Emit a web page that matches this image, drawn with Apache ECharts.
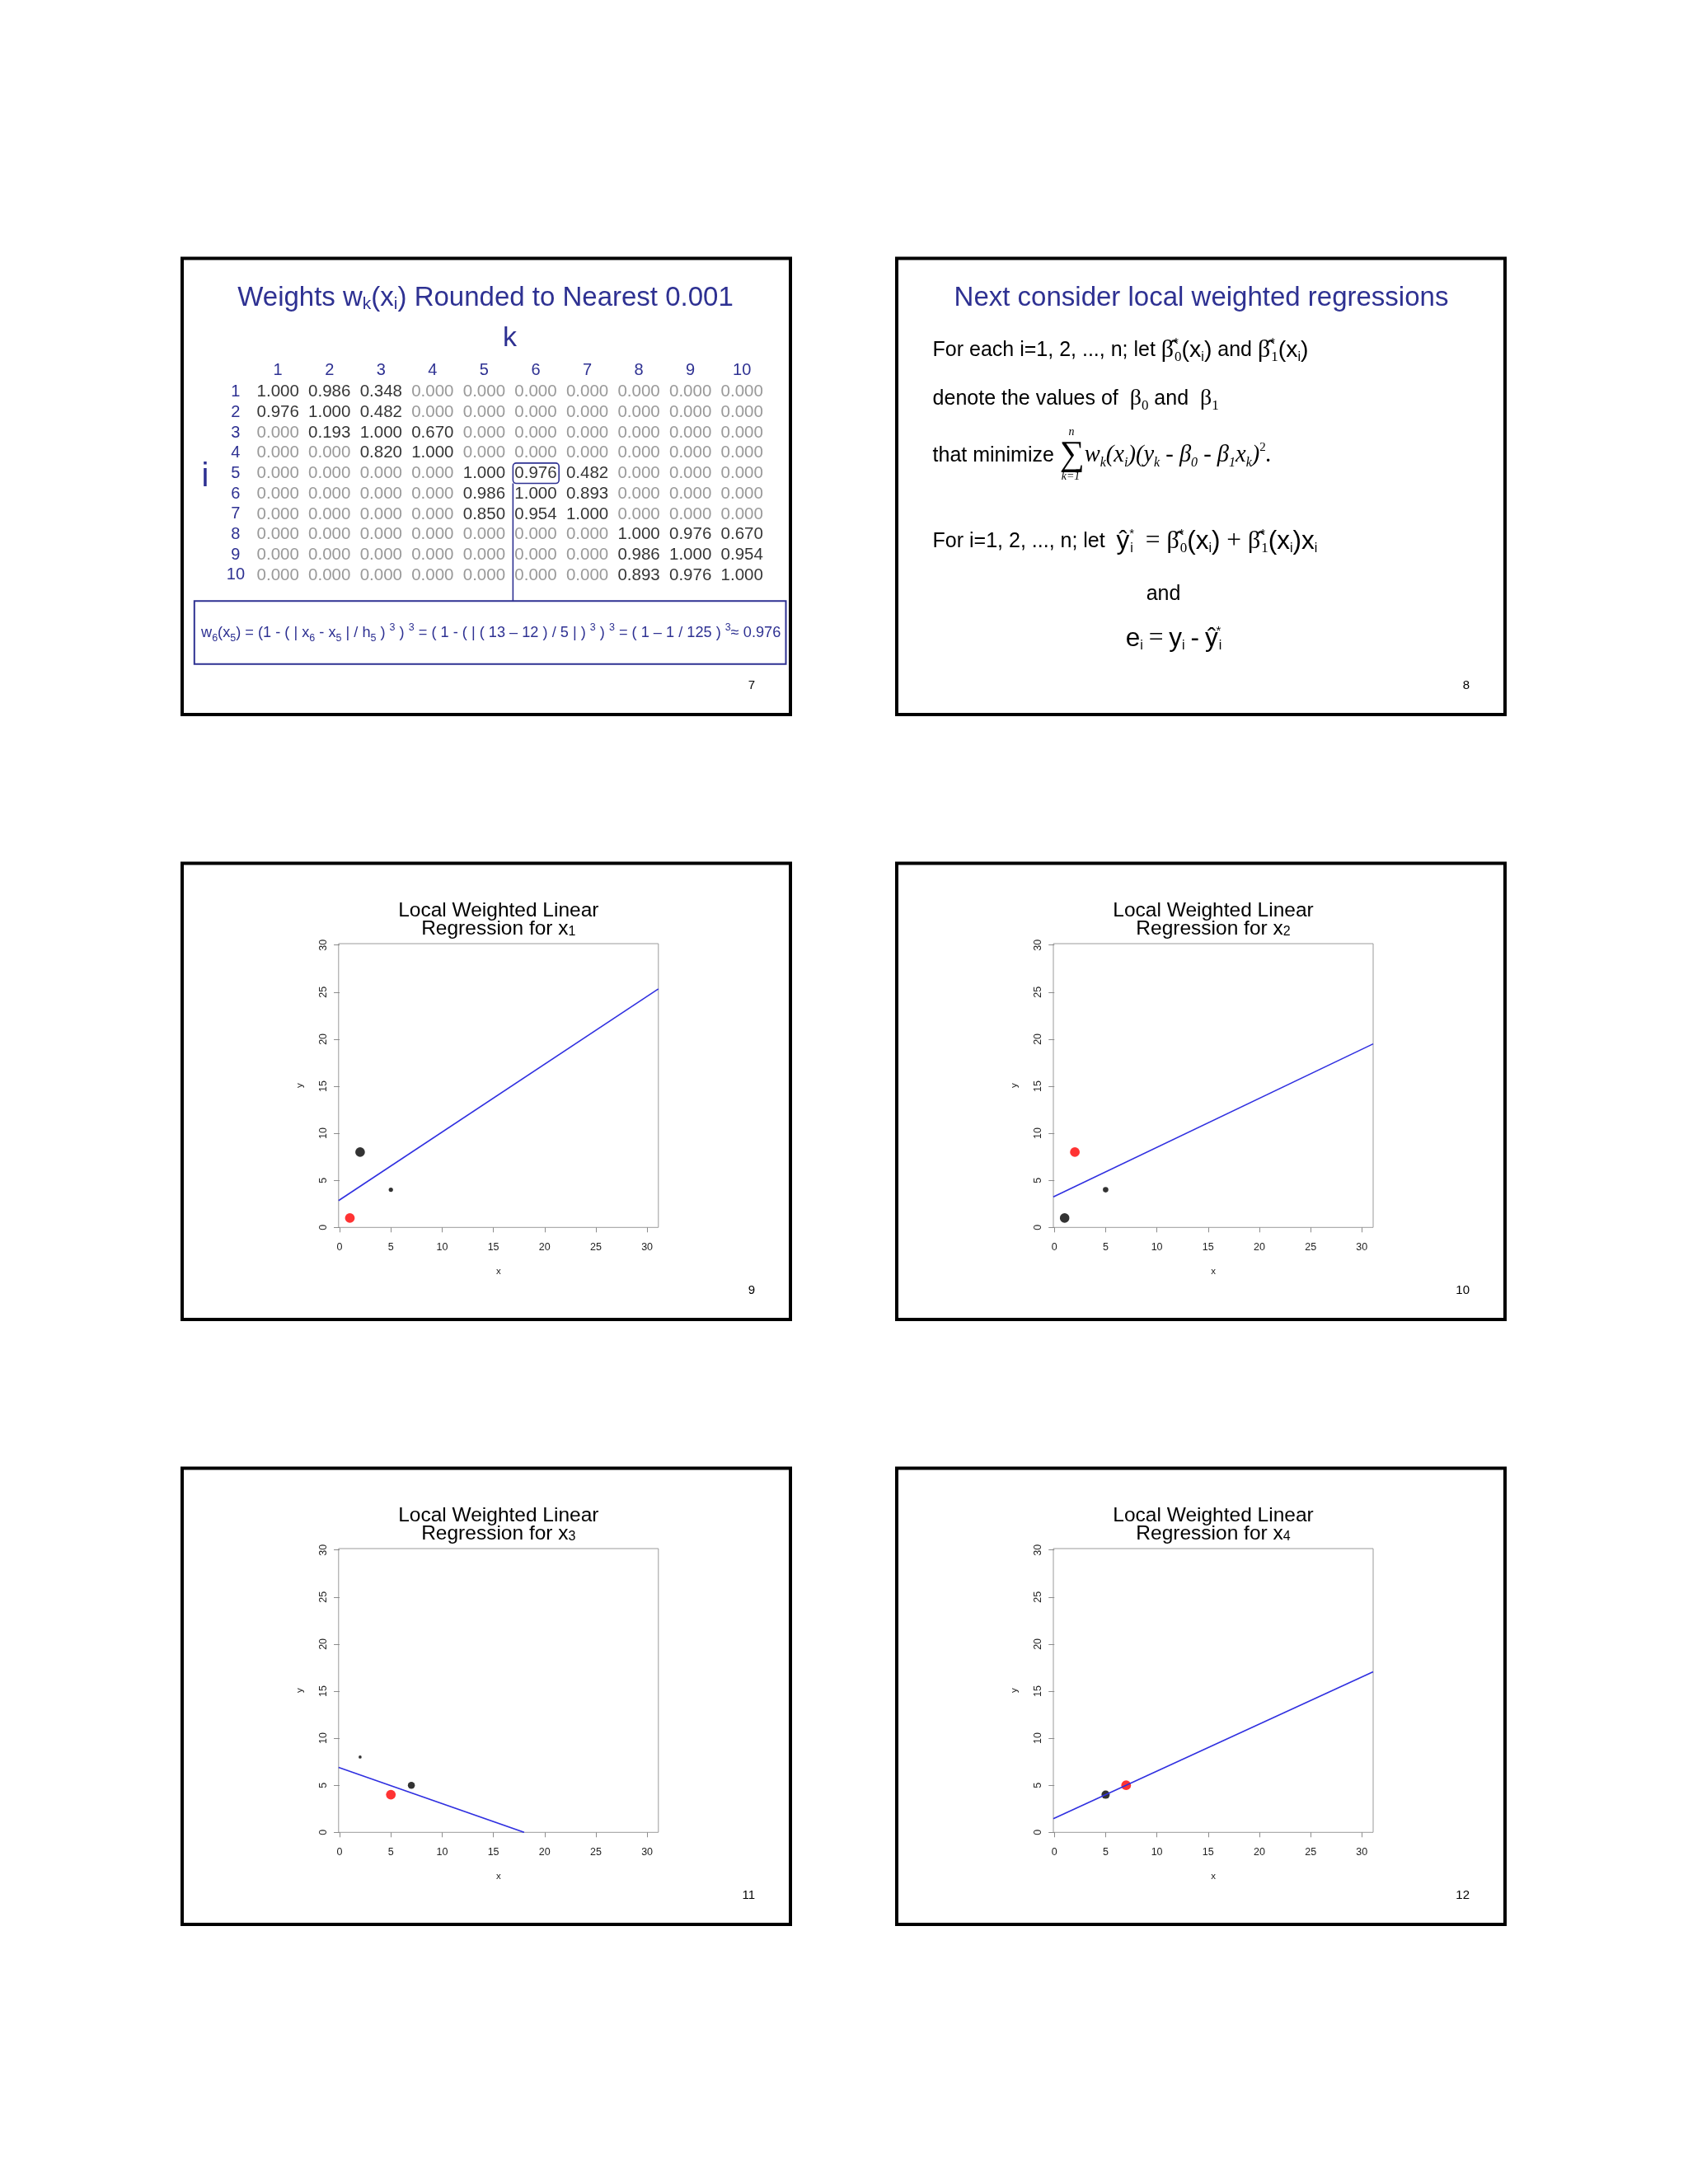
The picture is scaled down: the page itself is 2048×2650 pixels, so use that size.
<!DOCTYPE html>
<html><head><meta charset="utf-8">
<script src="https://cdn.jsdelivr.net/npm/echarts@6/dist/echarts.min.js"></script>
<style>html,body{margin:0;padding:0;background:#fff}#c{width:2048px;height:2650px}</style>
</head><body><div id="c"></div>
<script>
// ---------------- data ----------------
const colLabels = ['1','2','3','4','5','6','7','8','9','10'];
const rowLabels = ['1','2','3','4','5','6','7','8','9','10'];
const w1  = [1.000, 0.986, 0.348, 0.000, 0.000, 0.000, 0.000, 0.000, 0.000, 0.000];
const w2  = [0.976, 1.000, 0.482, 0.000, 0.000, 0.000, 0.000, 0.000, 0.000, 0.000];
const w3  = [0.000, 0.193, 1.000, 0.670, 0.000, 0.000, 0.000, 0.000, 0.000, 0.000];
const w4  = [0.000, 0.000, 0.820, 1.000, 0.000, 0.000, 0.000, 0.000, 0.000, 0.000];
const w5  = [0.000, 0.000, 0.000, 0.000, 1.000, 0.976, 0.482, 0.000, 0.000, 0.000];
const w6  = [0.000, 0.000, 0.000, 0.000, 0.986, 1.000, 0.893, 0.000, 0.000, 0.000];
const w7  = [0.000, 0.000, 0.000, 0.000, 0.850, 0.954, 1.000, 0.000, 0.000, 0.000];
const w8  = [0.000, 0.000, 0.000, 0.000, 0.000, 0.000, 0.000, 1.000, 0.976, 0.670];
const w9  = [0.000, 0.000, 0.000, 0.000, 0.000, 0.000, 0.000, 0.986, 1.000, 0.954];
const w10 = [0.000, 0.000, 0.000, 0.000, 0.000, 0.000, 0.000, 0.893, 0.976, 1.000];
const weightRows = [w1, w2, w3, w4, w5, w6, w7, w8, w9, w10];
const pointX = [1, 2, 5, 7];
const pointY = [1, 8, 4, 5];
const tickValues = [0, 5, 10, 15, 20, 25, 30];
const fit1X = [-0.1, 31.1], fit1Y = [2.85, 25.35];
const fit2X = [-0.1, 31.1], fit2Y = [3.25, 19.5];
const fit3X = [-0.1, 18.0], fit3Y = [6.9, 0];
const fit4X = [-0.1, 31.1], fit4Y = [1.45, 17.05];
const fitLines = [[fit1X, fit1Y], [fit2X, fit2Y], [fit3X, fit3Y], [fit4X, fit4Y]];
const panelSubs = ['1', '2', '3', '4'];
const pageNumbers = ['7', '8', '9', '10', '11', '12'];

// ---------------- styling ----------------
const BLUE = '#2E3192';
const SANS = 'Liberation Sans';
const SERIF = 'Liberation Serif';

const chart = echarts.init(document.getElementById('c'), null, {renderer: 'canvas', width: 2048, height: 2650});

const slideX = [221, 1088];
const slideY = [313.5, 1047.5, 1781.5];
const SW = 738, SH = 553.5;

const graphics = [];
slideY.forEach(y => slideX.forEach(x => {
  graphics.push({type: 'rect', shape: {x: x, y: y, width: SW, height: SH},
    style: {fill: 'none', stroke: '#000', lineWidth: 4}, silent: true});
}));
let pn = 0;
slideY.forEach(y => slideX.forEach(x => {
  graphics.push({type: 'text', x: x + SW - 43, y: y + SH - 35,
    style: {text: pageNumbers[pn++], fill: '#000', fontSize: 15, fontFamily: SANS,
      align: 'right', verticalAlign: 'middle', textAlign: 'right', textVerticalAlign: 'middle'}});
}));

function T(x, y, text, st) {
  const s = Object.assign({text: text, fill: '#000', fontSize: 25, fontFamily: SANS,
    align: 'left', verticalAlign: 'middle'}, st || {});
  s.textAlign = s.align; s.textVerticalAlign = s.verticalAlign;
  return {type: 'text', x: x, y: y, style: s, silent: true};
}

// ---- slide 7 ----
graphics.push(T(589, 362, 'Weights w{s|k}(x{s|i}) Rounded to Nearest 0.001', {
  fill: BLUE, fontSize: 33, lineHeight: 36, align: 'center',
  rich: {s: {fontSize: 21, lineHeight: 12, verticalAlign: 'bottom', fill: BLUE, fontFamily: SANS}}}));
graphics.push(T(618.5, 410.5, 'k', {fill: BLUE, fontSize: 34, align: 'center'}));
graphics.push(T(249, 579, 'i', {fill: BLUE, fontSize: 40, align: 'center'}));
graphics.push({type: 'rect', shape: {x: 235.8, y: 729.3, width: 717.7, height: 76.4},
  style: {fill: 'none', stroke: BLUE, lineWidth: 2}, silent: true});
graphics.push(T(244, 768,
  'w{b|6}(x{b|5}) = (1 - ( | x{b|6} - x{b|5} | / h{b|5} ) {p|3} ) {p|3} = ( 1 - ( | ( 13 \u2013 12 ) / 5 | ) {p|3} ) {p|3} = ( 1 \u2013 1 / 125 ) {p|3}\u2248 0.976', {
  fill: BLUE, fontSize: 18.2, lineHeight: 26,
  rich: {b: {fontSize: 12.5, lineHeight: 11, verticalAlign: 'bottom', fill: BLUE, fontFamily: SANS},
         p: {fontSize: 12.5, lineHeight: 11, verticalAlign: 'top', fill: BLUE, fontFamily: SANS}}}));

// ---- slide 8 ----
graphics.push(T(1457.5, 362, 'Next consider local weighted regressions', {fill: BLUE, fontSize: 33, align: 'center'}));
const mathRich = {
  b:  {fontFamily: SERIF, fontSize: 30, lineHeight: 34, verticalAlign: 'middle'},
  bb: {fontFamily: SERIF, fontSize: 28, lineHeight: 34, verticalAlign: 'middle'},
  st: {fontFamily: SANS, fontSize: 15, lineHeight: 12, verticalAlign: 'top', width: 1},
  z:  {fontFamily: SERIF, fontSize: 17, lineHeight: 12, verticalAlign: 'bottom'},
  i:  {fontFamily: SANS, fontSize: 16, lineHeight: 12, verticalAlign: 'bottom'},
  it: {fontFamily: SERIF, fontStyle: 'italic', fontSize: 28.5, lineHeight: 34, verticalAlign: 'middle'},
  is: {fontFamily: SERIF, fontStyle: 'italic', fontSize: 16, lineHeight: 12, verticalAlign: 'bottom'},
  sp: {fontFamily: SERIF, fontSize: 15, lineHeight: 12, verticalAlign: 'top'},
  sum: {fontFamily: SERIF, fontSize: 42, lineHeight: 34, verticalAlign: 'middle'},
  m2: {fontFamily: SANS, fontSize: 28.5, lineHeight: 34, verticalAlign: 'middle'},
  m:  {fontFamily: SANS, fontSize: 31.5, lineHeight: 34, verticalAlign: 'middle'},
  op: {fontFamily: SERIF, fontSize: 31.5, lineHeight: 34, verticalAlign: 'middle'}
};
const hatB = '\u03B2\u0302';
graphics.push(T(1131.6, 425,
  'For each i=1, 2, ..., n; let {b|' + hatB + '}{st|*}{z|0}{m2|(x}{i|i}{m2|)} and {b|' + hatB + '}{st|*}{z|1}{m2|(x}{i|i}{m2|)}',
  {lineHeight: 34, rich: mathRich}));
graphics.push(T(1131.6, 483.8,
  'denote the values of  {bb|\u03B2}{z|0} and  {bb|\u03B2}{z|1}',
  {lineHeight: 34, rich: mathRich}));
graphics.push(T(1131.6, 552.7,
  'that minimize {sum|\u2211}{it|w}{is|k}{it|(x}{is|i}{it|)(y}{is|k}{it| - \u03B2}{is|0}{it| - \u03B2}{is|1}{it|x}{is|k}{it|)}{sp|2}{it|.}',
  {lineHeight: 34, rich: mathRich}));
graphics.push(T(1300, 524.6, 'n', {fontFamily: SERIF, fontStyle: 'italic', fontSize: 14, align: 'center'}));
graphics.push(T(1299, 578, 'k=1', {fontFamily: SERIF, fontStyle: 'italic', fontSize: 14, align: 'center'}));
graphics.push(T(1131.6, 657,
  'For i=1, 2, ..., n; let  {m|\u0177}{st|*}{i|i} {op| = }{b|' + hatB + '}{st|*}{z|0}{m|(x}{i|i}{m|)}{op| + }{b|' + hatB + '}{st|*}{z|1}{m|(x}{i|i}{m|)x}{i|i}',
  {lineHeight: 34, rich: mathRich}));
graphics.push(T(1411.5, 721.3, 'and', {align: 'center'}));
graphics.push(T(1424, 775, '{m|e}{i|i} {op|=} {m|y}{i|i} {m|-} {m|\u0177}{st|*}{i|i}',
  {lineHeight: 34, align: 'center', rich: mathRich}));

// ---------------- grids / axes / series ----------------
const grids = [{left: 305.9, top: 463.4, width: 625.6, height: 246.9, show: false}];
const xAxes = [{type: 'category', gridIndex: 0, data: colLabels, position: 'top',
  axisLine: {show: false}, axisTick: {show: false}, splitLine: {show: false},
  axisLabel: {interval: 0, color: BLUE, fontSize: 20, fontFamily: SANS, margin: 4}}];
const yAxes = [{type: 'category', gridIndex: 0, data: rowLabels, inverse: true,
  axisLine: {show: false}, axisTick: {show: false}, splitLine: {show: false},
  axisLabel: {interval: 0, color: BLUE, fontSize: 20, fontFamily: SANS, margin: 20, align: 'center'}}];

const zeroCells = [], valCells = [];
weightRows.forEach((row, r) => row.forEach((v, c) => {
  (v === 0 ? zeroCells : valCells).push([c, r, v]);
}));
const cellLabel = color => ({show: true, position: 'inside', formatter: p => p.value[2].toFixed(3),
  color: color, fontSize: 20.5, fontFamily: SANS});
const series = [
  {type: 'scatter', xAxisIndex: 0, yAxisIndex: 0, data: zeroCells, symbolSize: 1,
   itemStyle: {color: 'rgba(0,0,0,0)'}, label: cellLabel('#808080'), silent: true},
  {type: 'scatter', xAxisIndex: 0, yAxisIndex: 0, data: valCells, symbolSize: 1,
   itemStyle: {color: 'rgba(0,0,0,0)'}, label: cellLabel('#000000'), silent: true}
];

const panelLeft = [410.8, 1278, 410.8, 1278];
const panelTop = [1145, 1145, 1879, 1879];
const PW = 388, PH = 344.3;
for (let p = 0; p < 4; p++) {
  const gi = p + 1;
  grids.push({left: panelLeft[p], top: panelTop[p], width: PW, height: PH, show: true,
    borderColor: '#9a9a9a', borderWidth: 1, backgroundColor: 'rgba(0,0,0,0)'});
  xAxes.push({type: 'value', gridIndex: gi, min: -0.1, max: 31.1,
    axisLine: {show: false},
    axisTick: {show: true, length: 6, lineStyle: {color: '#8c8c8c'}, customValues: tickValues},
    axisLabel: {customValues: tickValues, fontSize: 12.5, color: '#222', margin: 18, fontFamily: SANS},
    splitLine: {show: false},
    name: 'x', nameLocation: 'middle', nameGap: 48, nameTextStyle: {fontSize: 11.5, color: '#222', fontFamily: SANS}});
  yAxes.push({type: 'value', gridIndex: gi, min: 0, max: 30.15,
    axisLine: {show: false},
    axisTick: {show: true, length: 7, lineStyle: {color: '#8c8c8c'}, customValues: tickValues},
    axisLabel: {customValues: tickValues, fontSize: 12.5, color: '#222', margin: 12, rotate: 90, fontFamily: SANS},
    splitLine: {show: false},
    name: 'y', nameLocation: 'middle', nameGap: 41, nameTextStyle: {fontSize: 11.5, color: '#222', fontFamily: SANS}});
  const w = weightRows[p];
  const pts = [];
  pointX.forEach((x, j) => {
    if (w[j] > 0) pts.push({value: [x, pointY[j]], symbolSize: 1.8 + 10 * w[j],
      itemStyle: {color: j === p ? '#FF0000' : '#000000'}});
  });
  series.push({type: 'scatter', xAxisIndex: gi, yAxisIndex: gi, data: pts, z: 3, silent: true});
  const fx = fitLines[p][0], fy = fitLines[p][1];
  series.push({type: 'line', xAxisIndex: gi, yAxisIndex: gi, data: fx.map((x, k) => [x, fy[k]]),
    symbol: 'none', clip: true, z: 4, silent: true, lineStyle: {color: '#3030E0', width: 1.6}});
  // panel title (two lines, subscript index)
  const cx = panelLeft[p] + PW / 2;
  graphics.push(T(cx, panelTop[p] - 40, 'Local Weighted Linear', {fontSize: 24.5, align: 'center', lineHeight: 22}));
  graphics.push(T(cx, panelTop[p] - 18, 'Regression for x{s|' + panelSubs[p] + '}', {
    fontSize: 24.5, align: 'center', lineHeight: 24,
    rich: {s: {fontSize: 16, lineHeight: 10, verticalAlign: 'bottom', fill: '#000', fontFamily: SANS}}}));
}

chart.setOption({
  animation: false,
  backgroundColor: '#ffffff',
  textStyle: {fontFamily: SANS},
  grid: grids,
  xAxis: xAxes,
  yAxis: yAxes,
  series: series,
  graphic: {elements: graphics}
});

// highlight box around w6(x5) and its connector, placed through the table axes
const c = chart.convertToPixel({xAxisIndex: 0, yAxisIndex: 0}, [5, 4]);
chart.setOption({graphic: {elements: graphics.concat([
  {type: 'rect', shape: {x: c[0] - 27.6, y: c[1] - 12.6, width: 55.8, height: 24.6, r: 4},
   style: {fill: 'none', stroke: BLUE, lineWidth: 1.6}, silent: true},
  {type: 'line', shape: {x1: c[0] - 27.6, y1: c[1] + 12, x2: c[0] - 27.6, y2: 729.3},
   style: {stroke: BLUE, lineWidth: 1.6}, silent: true}
])}});
</script></body></html>
